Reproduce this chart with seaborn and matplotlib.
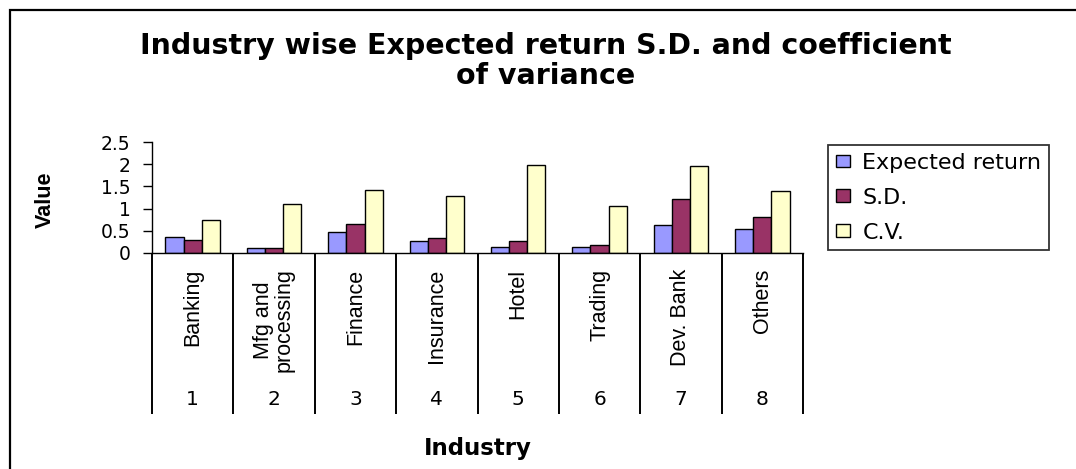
import pandas as pd
import matplotlib
matplotlib.use("Agg")
import matplotlib.pyplot as plt
import matplotlib.transforms as mtransforms
from matplotlib.patches import Patch, Rectangle
from matplotlib import font_manager
import seaborn as sns

# dados
industrias = ['Banking', 'Mfg and\nprocessing', 'Finance', 'Insurance', 'Hotel', 'Trading', 'Dev. Bank', 'Others']
numeros = ['1', '2', '3', '4', '5', '6', '7', '8']
expected_return = [0.36, 0.11, 0.48, 0.26, 0.14, 0.14, 0.62, 0.55]
sd = [0.30, 0.11, 0.66, 0.33, 0.26, 0.18, 1.21, 0.81]
cv = [0.74, 1.10, 1.43, 1.28, 1.99, 1.06, 1.95, 1.40]
series = ['Expected return', 'S.D.', 'C.V.']
cores = ['#9999FF', '#993366', '#FFFFCC']
yticks = [0, 0.5, 1, 1.5, 2, 2.5]
ytick_labels = ['0', '0.5', '1', '1.5', '2', '2.5']

df = pd.DataFrame({
    'Industry': numeros * 3,
    'Value': expected_return + sd + cv,
    'Measure': [s for s in series for _ in numeros],
})

sns.set_style('white')
plt.rcParams['font.family'] = ['DejaVu Sans']
plt.rcParams['text.color'] = 'black'
plt.rcParams['axes.labelcolor'] = 'black'
plt.rcParams['ytick.color'] = 'black'

nomes = {f.name for f in font_manager.fontManager.ttflist}
if 'Liberation Sans Narrow' in nomes:
    fonte_cat, tam_cat = 'Liberation Sans Narrow', 18.5
else:
    fonte_cat, tam_cat = 'Liberation Sans', 15.5

W, H = 1076, 469
fig = plt.figure(figsize=(W / 100, H / 100), dpi=100)
ax = fig.add_axes([152 / W, 216 / H, 651 / W, 111 / H])

sns.barplot(data=df, x='Industry', y='Value', hue='Measure', palette=cores,
            width=0.67, gap=0, edgecolor='black', linewidth=1.0, saturation=1,
            legend=False, ax=ax)

ax.set_xlim(-0.5, 7.5)
ax.set_ylim(0, 2.5)
ax.set_yticks(yticks)
ax.set_yticklabels(ytick_labels, fontsize=13.5)
ax.tick_params(axis='y', direction='out', length=6.5, width=1.0, pad=9, left=True, colors='black')
ax.set_xticks([])
for lado in ['top', 'right']:
    ax.spines[lado].set_visible(False)
for lado in ['left', 'bottom']:
    ax.spines[lado].set_color('black')
    ax.spines[lado].set_linewidth(1.0)

# tabela de categorias abaixo do eixo
trans = mtransforms.blended_transform_factory(ax.transData, ax.transAxes)
for i in range(len(industrias) + 1):
    ax.plot([i - 0.5, i - 0.5], [0, -1.45], transform=trans, color='black',
            lw=1.4, clip_on=False, solid_capstyle='butt')
for i, (nome, num) in enumerate(zip(industrias, numeros)):
    ax.text(i, -0.14, nome, transform=trans, rotation=90, ha='center', va='top',
            multialignment='center', fontsize=tam_cat, family=fonte_cat, linespacing=1.0)
    ax.text(i, -1.32, num, transform=trans, ha='center', va='center', fontsize=14.5)

ax.set_xlabel('Industry', fontsize=16.5, fontweight='bold')
ax.xaxis.set_label_coords(0.5, -1.66)
ax.set_ylabel('Value', fontsize=15.5, fontweight='bold', family='Liberation Sans')
ax.yaxis.set_label_coords(-0.147, 0.48)

fig.text(546 / W, 1 - 61 / H, 'Industry wise Expected return S.D. and coefficient\nof variance',
         ha='center', va='center', fontsize=20.5, fontweight='bold', linespacing=1.1)

handles = [Patch(facecolor=c, edgecolor='black', linewidth=1.0) for c in cores]
leg = fig.legend(handles, series, loc='upper left', bbox_to_anchor=(828 / W, 1 - 145 / H),
                 bbox_transform=fig.transFigure, fontsize=16, frameon=True, fancybox=False,
                 borderaxespad=0, borderpad=0.35, labelspacing=0.67, handlelength=0.65,
                 handleheight=0.5, handletextpad=0.55)
leg.get_frame().set_edgecolor('black')
leg.get_frame().set_linewidth(1.3)

# moldura externa
fig.patches.append(Rectangle((10 / W, -0.05), 1.1, 1 - 10 / H + 0.05, transform=fig.transFigure,
                             fill=False, edgecolor='black', linewidth=1.6))

fig.savefig('out.png', dpi=100)
